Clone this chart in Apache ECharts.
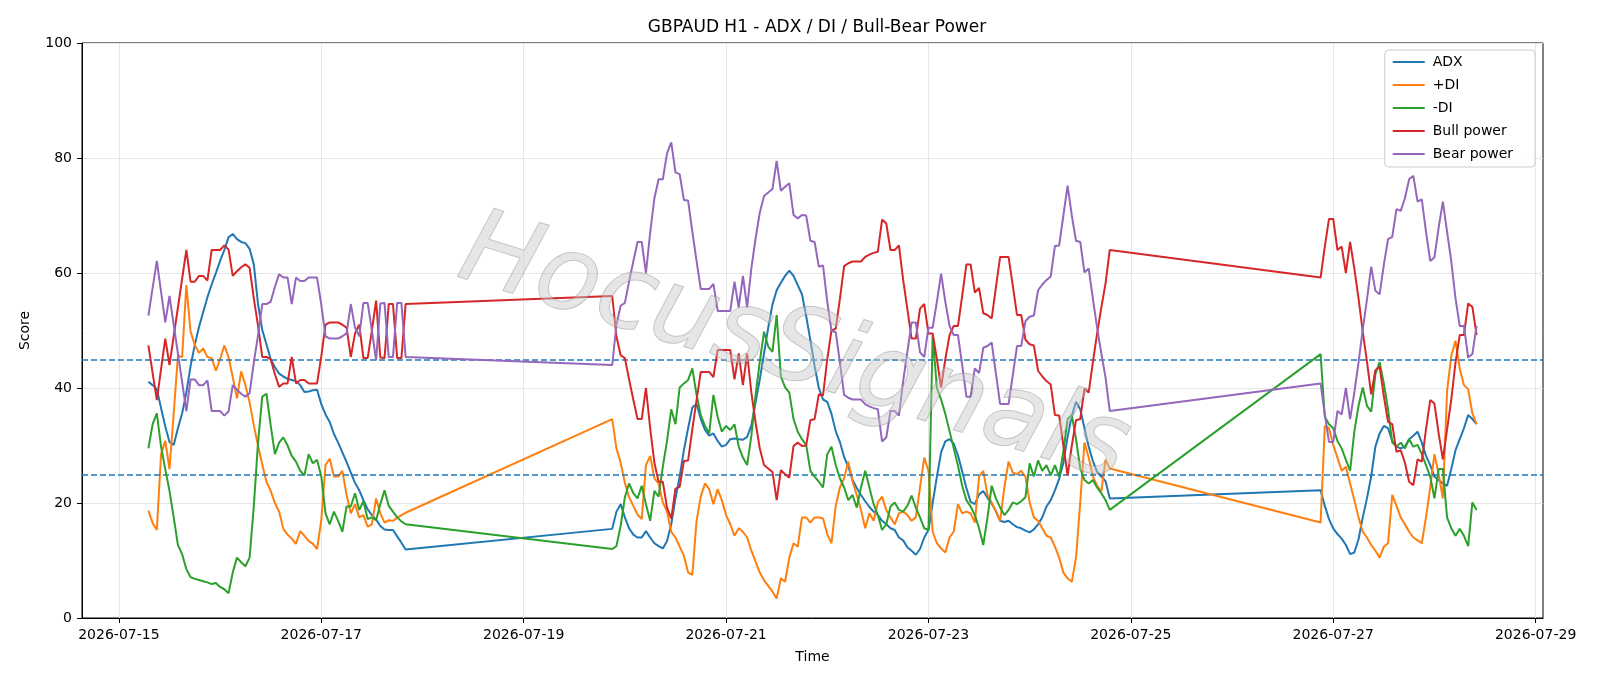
<!DOCTYPE html>
<html>
<head>
<meta charset="utf-8">
<script src="https://cdn.jsdelivr.net/npm/echarts@6/dist/echarts.min.js"></script>
<style>
html, body {margin: 0; padding: 0; background: #fff;}
#chart {width: 1600px; height: 686px;}
</style>
</head>
<body>
<div id="chart"></div>
<script>
// hours counted from 2026-07-15 00:00, one bar per hour, weekends skipped
const sessions = [[7, 68], [117, 235], [285, 322]]

const dayLabels = ['2026-07-15', '2026-07-17', '2026-07-19', '2026-07-21',
    '2026-07-23', '2026-07-25', '2026-07-27', '2026-07-29']

const seriesNames = ['ADX', '+DI', '-DI', 'Bull power', 'Bear power']
const colors = ['#1f77b4', '#ff7f0e', '#2ca02c', '#d62728', '#9467bd']
const levels = [45, 25]

const adx = [
    41.1, 40.5, 39.8, 36.5, 33.3, 30.6, 30.1, 33.0, 35.6, 39.2, 43.8, 47.5, 50.6, 53.2, 55.8, 58.0, 60.0, 62.1, 64.0, 66.2,
    66.8, 65.9, 65.4, 65.2, 64.2, 61.5, 54.6, 50.1, 47.6, 45.0, 43.6, 42.5, 42.0, 41.6, 41.4, 41.2, 40.5, 39.3, 39.4, 39.6,
    39.7, 37.2, 35.4, 34.1, 32.0, 30.5, 28.8, 27.1, 25.3, 23.5, 22.2, 20.5, 18.9, 17.9, 17.1, 16.0, 15.4, 15.3, 15.3, 14.2,
    13.1, 11.9,
    15.5, 18.5, 19.8, 17.5, 15.6, 14.5, 14.0, 14.0, 15.1, 14.0, 13.0, 12.5, 12.1, 13.4, 16.3, 20.8, 24.6, 29.2, 33.0, 36.6,
    37.2, 34.6, 32.7, 31.7, 32.1, 30.8, 29.8, 30.1, 31.1, 31.2, 31.1, 31.0, 31.5, 33.5,
    37.5, 41.5, 46.0, 50.5, 54.5, 57.0, 58.3, 59.5, 60.4, 59.5, 57.9, 56.3, 52.5, 48.3, 43.8, 40.0, 38.0, 37.6, 35.5, 32.5,
    30.6, 28.0, 26.3, 24.0, 22.6, 21.4, 20.3, 19.3, 18.5, 17.9, 16.9, 16.3, 15.6, 15.3,
    14.0, 13.5, 12.3, 11.7, 11.0, 12.0, 14.0, 15.3, 20.0, 24.6, 28.8, 30.7, 31.1, 30.3, 28.3, 25.5, 22.6, 20.2, 19.8, 21.5,
    22.1, 20.9, 19.9, 18.6, 16.9, 16.7, 16.9, 16.3, 15.8, 15.6, 15.2, 14.9, 15.4,
    16.3, 17.5, 19.4, 20.5, 22.2, 24.2, 27.0, 31.5, 35.2, 37.6, 36.3, 33.0, 29.8, 27.3, 25.4, 24.6, 23.8, 20.8,
    22.2, 19.5, 17.2, 15.6, 14.6, 13.8, 12.7, 11.1, 11.4, 13.7, 17.5, 20.8, 24.6, 29.8, 32.1, 33.4, 33.0, 30.8, 29.8, 29.5,
    29.8, 31.1, 31.7, 32.4, 30.5, 28.2, 26.6, 24.6, 24.0, 23.4, 23.0, 25.9, 29.2, 31.1, 33.0, 35.3, 34.6, 33.7
]

const plusDI = [
    18.7, 16.5, 15.3, 28.5, 30.8, 25.9, 35.6, 45.6, 45.4, 57.9, 49.8, 47.5, 46.1, 46.9, 45.4, 45.2, 43.0, 45.0, 47.4, 45.4,
    41.9, 38.2, 42.9, 40.5, 37.5, 33.5, 30.0, 26.7, 23.7, 22.1, 20.0, 18.5, 15.5, 14.5, 13.8, 12.9, 15.1, 14.3, 13.4, 12.9,
    12.0, 17.0, 26.6, 27.7, 24.6, 24.6, 25.6, 21.4, 18.2, 19.8, 17.5, 17.9, 15.9, 16.3, 20.8, 18.2, 16.6, 17.0, 16.9, 17.4,
    17.9, 18.3,
    34.6, 29.5, 27.0, 23.5, 21.0, 19.5, 18.0, 17.2, 26.6, 28.2, 24.3, 23.4, 20.1, 18.5, 15.0, 14.0, 12.4, 10.8, 7.9, 7.5,
    16.9, 21.1, 23.4, 22.4, 19.8, 22.4, 20.5, 17.9, 16.3, 14.3, 15.6, 15.0, 14.0, 11.7,
    9.8, 7.9, 6.6, 5.6, 4.6, 3.4, 6.9, 6.3, 10.5, 13.0, 12.4, 17.5, 17.5, 16.6, 17.5, 17.5, 17.3, 14.6, 13.0, 19.5,
    22.7, 24.3, 27.2, 23.7, 21.4, 18.8, 15.6, 18.2, 16.9, 20.1, 21.1, 18.8, 17.5, 16.3,
    18.2, 18.5, 17.9, 16.9, 17.5, 22.7, 27.9, 25.6, 15.0, 13.0, 12.1, 11.4, 14.0, 15.0, 19.8, 18.2, 18.5, 18.2, 16.6, 24.6,
    25.6, 21.4, 20.1, 18.5, 16.9, 22.7, 27.2, 25.3, 25.0, 25.6, 24.6, 20.1, 17.5,
    16.9, 15.6, 14.3, 14.0, 12.4, 10.5, 7.9, 6.9, 6.3, 10.5, 20.1, 30.5, 27.9, 24.6, 23.0, 22.0, 27.5, 26.0,
    16.6, 33.4, 33.0, 30.1, 27.9, 25.6, 26.3, 23.4, 20.5, 17.5, 15.0, 14.0, 12.7, 11.7, 10.5, 12.4, 13.0, 21.4, 19.5, 17.5,
    16.3, 15.0, 14.0, 13.5, 13.0, 17.5, 22.7, 28.5, 25.0, 20.8, 39.5, 45.6, 48.2, 43.4, 40.5, 39.8, 35.6, 33.7
]

const minusDI = [
    29.5, 33.7, 35.6, 29.8, 25.9, 22.1, 17.5, 12.7, 11.1, 8.5, 7.1, 6.8, 6.6, 6.4, 6.2, 5.9, 6.1, 5.4, 5.0, 4.3,
    7.9, 10.5, 9.7, 9.0, 10.5, 19.5, 30.5, 38.5, 39.0, 33.5, 28.5, 30.5, 31.4, 30.0, 28.2, 27.2, 25.6, 24.8, 28.5, 26.9,
    27.5, 24.6, 18.2, 16.3, 18.5, 16.9, 15.0, 19.4, 19.4, 21.7, 18.8, 20.3, 17.2, 17.5, 17.0, 19.8, 22.2, 19.5, 18.5, 17.5,
    16.8, 16.3,
    12.0, 12.5, 16.0, 21.0, 23.4, 21.7, 20.8, 23.0, 19.8, 16.9, 22.1, 21.1, 26.3, 30.8, 36.3, 33.7, 40.1, 40.8, 41.4, 43.4,
    38.8, 35.3, 33.4, 32.1, 38.8, 35.0, 32.4, 33.4, 32.7, 33.7, 29.8, 27.9, 26.6, 31.7,
    38.8, 44.6, 49.8, 47.2, 46.3, 52.7, 42.0, 40.1, 39.2, 34.6, 32.4, 31.1, 30.1, 25.6, 24.6, 23.7, 22.7, 28.5, 29.8, 26.6,
    24.3, 22.7, 20.5, 21.4, 19.2, 22.7, 25.6, 22.7, 19.8, 17.9, 15.3, 16.3, 19.4, 20.1,
    18.8, 18.5, 19.5, 21.3, 19.2, 17.5, 15.6, 15.3, 49.2, 40.0, 38.0, 35.5, 32.5, 29.5, 26.5, 23.0, 20.5, 19.4, 17.9, 15.6,
    12.7, 17.5, 23.0, 20.8, 19.2, 17.9, 18.8, 20.1, 19.8, 20.3, 21.0, 26.9, 24.6,
    27.4, 25.6, 26.6, 24.8, 26.6, 24.5, 29.0, 34.6, 35.3, 31.1, 26.0, 24.0, 23.4, 24.0, 22.7, 21.7, 20.5, 18.8,
    45.9, 35.0, 33.7, 33.0, 30.8, 29.5, 27.5, 25.6, 32.4, 36.9, 40.1, 36.9, 35.9, 42.4, 44.5, 40.8, 36.3, 30.5, 29.8, 30.5,
    29.5, 31.1, 29.8, 30.1, 28.5, 26.6, 24.6, 20.8, 25.9, 25.9, 17.5, 15.6, 14.3, 15.5, 14.3, 12.5, 20.1, 18.8
]

const bullPower = [
    47.4, 42.6, 37.9, 43.3, 48.6, 44.0, 49.0, 54.0, 59.0, 64.0, 58.5, 58.5, 59.5, 59.5, 58.7, 64.0, 64.0, 64.0, 64.8, 64.1,
    59.5, 60.3, 61.0, 61.5, 60.9, 55.6, 50.8, 45.4, 45.4, 45.0, 42.4, 40.2, 40.8, 40.8, 45.4, 40.8, 41.4, 41.4, 40.8, 40.8,
    40.8, 45.5, 51.0, 51.4, 51.4, 51.4, 51.0, 50.5, 45.4, 49.5, 51.0, 45.2, 45.2, 50.0, 55.2, 45.3, 45.2, 54.6, 54.6, 45.2,
    45.2, 54.6,
    56.0, 49.0, 45.7, 45.2, 41.5, 38.0, 34.6, 34.6, 40.0, 33.0, 27.0, 23.7, 23.7, 19.2, 17.3, 22.5, 22.8, 27.3, 27.4, 32.8,
    37.9, 42.8, 42.8, 42.8, 41.9, 46.6, 46.6, 46.6, 46.6, 41.5, 46.0, 40.5, 46.0, 39.2,
    34.0, 29.5, 26.6, 26.0, 25.4, 20.5, 25.7, 25.0, 24.4, 29.9, 30.5, 29.9, 30.0, 34.4, 34.6, 38.9, 38.7, 45.0, 50.0, 50.3,
    55.5, 61.2, 61.7, 62.0, 62.0, 62.0, 62.8, 63.2, 63.5, 63.7, 69.3, 68.6, 64.0, 64.0,
    64.8, 58.8, 53.7, 48.6, 48.6, 53.8, 54.6, 49.5, 49.5, 45.0, 40.1, 45.0, 49.2, 50.8, 50.8, 56.0, 61.5, 61.5, 56.6, 57.4,
    53.0, 52.7, 52.1, 57.5, 62.8, 62.8, 62.8, 57.8, 52.7, 52.7, 48.4, 47.6, 47.4,
    43.0, 42.0, 41.2, 40.6, 35.3, 35.2, 30.0, 24.8, 30.0, 34.4, 34.6, 39.9, 39.2, 44.5, 49.5, 54.0, 58.2, 64.0,
    59.2, 64.6, 69.4, 69.4, 64.0, 64.6, 60.0, 65.4, 60.8, 55.6, 49.8, 44.6, 38.9, 43.1, 43.7, 38.6, 34.1, 33.7, 28.9, 29.2,
    27.0, 23.7, 23.1, 27.6, 27.2, 32.8, 37.9, 37.3, 32.1, 27.6, 32.8, 38.0, 44.4, 49.2, 49.2, 54.7, 54.1, 49.2
]

const bearPower = [
    52.6, 57.4, 62.1, 56.7, 51.4, 56.0, 51.0, 46.0, 41.0, 36.0, 41.5, 41.5, 40.5, 40.5, 41.3, 36.0, 36.0, 36.0, 35.2, 35.9,
    40.5, 39.7, 39.0, 38.5, 39.1, 44.4, 49.2, 54.6, 54.6, 55.0, 57.6, 59.8, 59.2, 59.2, 54.6, 59.2, 58.6, 58.6, 59.2, 59.2,
    59.2, 54.5, 49.0, 48.6, 48.6, 48.6, 49.0, 49.5, 54.6, 50.5, 49.0, 54.8, 54.8, 50.0, 44.8, 54.7, 54.8, 45.4, 45.4, 54.8,
    54.8, 45.4,
    44.0, 51.0, 54.3, 54.8, 58.5, 62.0, 65.4, 65.4, 60.0, 67.0, 73.0, 76.3, 76.3, 80.8, 82.7, 77.5, 77.2, 72.7, 72.6, 67.2,
    62.1, 57.2, 57.2, 57.2, 58.1, 53.4, 53.4, 53.4, 53.4, 58.5, 54.0, 59.5, 54.0, 60.8,
    66.0, 70.5, 73.4, 74.0, 74.6, 79.5, 74.3, 75.0, 75.6, 70.1, 69.5, 70.1, 70.0, 65.6, 65.4, 61.1, 61.3, 55.0, 50.0, 49.7,
    44.5, 38.8, 38.3, 38.0, 38.0, 38.0, 37.2, 36.8, 36.5, 36.3, 30.7, 31.4, 36.0, 36.0,
    35.2, 41.2, 46.3, 51.4, 51.4, 46.2, 45.4, 50.5, 50.5, 55.0, 59.9, 55.0, 50.8, 49.2, 49.2, 44.0, 38.5, 38.5, 43.4, 42.6,
    47.0, 47.3, 47.9, 42.5, 37.2, 37.2, 37.2, 42.2, 47.3, 47.3, 51.6, 52.4, 52.6,
    57.0, 58.0, 58.8, 59.4, 64.7, 64.8, 70.0, 75.2, 70.0, 65.6, 65.4, 60.1, 60.8, 55.5, 50.5, 46.0, 41.8, 36.0,
    40.8, 35.4, 30.6, 30.6, 36.0, 35.4, 40.0, 34.6, 39.2, 44.4, 50.2, 55.4, 61.1, 56.9, 56.3, 61.4, 65.9, 66.3, 71.1, 70.8,
    73.0, 76.3, 76.9, 72.4, 72.8, 67.2, 62.1, 62.7, 67.9, 72.4, 67.2, 62.0, 55.6, 50.8, 50.8, 45.3, 45.9, 50.8
]

const allValues = [adx, plusDI, minusDI, bullPower, bearPower]

let hours = []
sessions.forEach(([a, b]) => {
    for (let h = a; h <= b; h++) hours.push(h)
})

// matplotlib keeps 5% margins on both sides of the data range
let span = hours[hours.length - 1] - hours[0]
let xMin = hours[0] - span * 0.05
let xMax = hours[hours.length - 1] + span * 0.05
let tickHours = dayLabels.map((d, i) => i * 48)

const font = 'DejaVu Sans'

let chart = echarts.init(document.getElementById('chart'))

let series = seriesNames.map((name, i) => {
    let s = {
        name: name,
        type: 'line',
        data: allValues[i].map((v, k) => [hours[k], v]),
        showSymbol: false,
        symbol: 'none',
        lineStyle: {color: colors[i], width: 2},
        itemStyle: {color: colors[i]},
        animation: false,
        z: 3 + i,
    }
    if (i === 0) {
        s.markLine = {
            silent: true,
            symbol: 'none',
            animation: false,
            label: {show: false},
            lineStyle: {color: '#1f77b4', type: [6, 3], width: 1.5},
            data: levels.map(v => ({yAxis: v})),
        }
    }
    return s
})

chart.setOption({
    backgroundColor: '#fff',
    animation: false,
    title: {
        text: 'GBPAUD H1 - ADX / DI / Bull-Bear Power',
        left: 812,
        top: 14,
        textAlign: 'center',
        textStyle: {fontFamily: font, fontSize: 17, fontWeight: 'normal', color: '#000'},
    },
    legend: {
        orient: 'vertical',
        right: 65,
        top: 50,
        icon: 'rect',
        itemWidth: 32,
        itemHeight: 2,
        itemGap: 9,
        padding: [5, 22, 6, 8],
        backgroundColor: 'rgba(255,255,255,0.8)',
        borderColor: '#cccccc',
        borderWidth: 1,
        borderRadius: 4,
        textStyle: {fontFamily: font, fontSize: 14, color: '#000', padding: [0, 0, 0, 3]},
        data: seriesNames,
    },
    grid: {
        left: 82, right: 57, top: 43, bottom: 68,
        show: true, borderColor: '#000', borderWidth: 1,
    },
    xAxis: {
        type: 'value',
        min: xMin,
        max: xMax,
        name: 'Time',
        nameLocation: 'middle',
        nameGap: 32,
        nameTextStyle: {fontFamily: font, fontSize: 14, color: '#000'},
        axisLine: {show: true, onZero: false, lineStyle: {color: '#000', width: 1}},
        axisTick: {show: true, length: 5, lineStyle: {color: '#000'}, customValues: tickHours},
        axisLabel: {
            customValues: tickHours,
            formatter: v => dayLabels[Math.round(v / 48)],
            fontFamily: font, fontSize: 14, color: '#000', margin: 10,
        },
        splitLine: {show: true, lineStyle: {color: '#e6e6e6', width: 1}},
    },
    yAxis: {
        type: 'value',
        min: 0,
        max: 100,
        interval: 20,
        name: 'Score',
        nameLocation: 'middle',
        nameGap: 50,
        nameRotate: 90,
        nameTextStyle: {fontFamily: font, fontSize: 14, color: '#000'},
        axisLine: {show: true, onZero: false, lineStyle: {color: '#000', width: 1}},
        axisTick: {show: true, length: 5, lineStyle: {color: '#000'}},
        axisLabel: {fontFamily: font, fontSize: 14, color: '#000', margin: 10},
        splitLine: {show: true, lineStyle: {color: '#e6e6e6', width: 1}},
    },
    graphic: [{
        type: 'text',
        x: 478,
        y: 200,
        rotation: -0.3,
        silent: true,
        z: 100,
        style: {
            text: 'HocusSignals',
            font: 'italic 200 104px "DejaVu Sans"',
            fill: 'rgba(200,200,200,0.45)',
            stroke: 'rgba(110,110,110,0.4)',
            lineWidth: 1,
        },
    }],
    series: series,
})
</script>
</body>
</html>
